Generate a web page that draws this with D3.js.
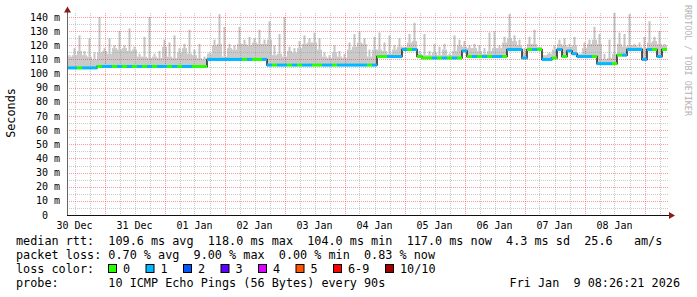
<!DOCTYPE html>
<html>
<head>
<meta charset="utf-8">
<script src="https://cdn.jsdelivr.net/npm/d3@7"></script>
<style>
html, body { margin: 0; padding: 0; background: #fff; }
svg { display: block; }
text { font-family: "DejaVu Sans Mono", monospace; fill: #000; white-space: pre; }
</style>
</head>
<body>
<svg id="chart" width="697" height="297"></svg>
<script>
// smokeping style latency graph, 10 days, one sample every 2 hours
const startTime = new Date(2025, 11, 30, 9, 0);
const endTime = new Date(2026, 0, 9, 9, 0);
const stepHours = 2;

// median rtt (ms) per sample
const median = [
  104, 104, 104, 104, 104, 104,
  105, 105, 105, 105, 105, 105, 105, 105, 105, 105, 105,
  105, 105, 105, 105, 105, 105, 105, 105, 105, 105, 105,
  110, 110, 110, 110, 110, 110, 110, 110, 110, 110, 110, 110,
  106, 106, 106, 106, 106, 106, 106, 106, 106, 106, 106,
  106, 106, 106, 106, 106, 106, 106, 106, 106, 106, 106,
  112, 112, 112, 112, 112,
  117, 117, 117,
  112,
  111, 111, 111, 111, 111, 111, 111, 111,
  116,
  112, 112, 112, 112, 112, 112, 112, 112,
  117, 117, 117, 111, 117, 117, 117,
  110, 110, 111,
  117, 112, 116, 114,
  112, 112, 112, 112,
  107, 107, 107, 107,
  113, 113,
  117, 117, 117,
  110,
  117, 117,
  112,
  117
];

// lost pings (of 10) per sample
const loss = [
  1, 1, 0, 1, 1, 1,
  0, 1, 1, 0, 1, 0, 1, 0, 1, 0, 1, 0, 1, 1, 0, 1, 0, 1, 1, 0, 0, 0,
  1, 1, 1, 1, 1, 1, 1, 0, 1, 0, 0, 1,
  1, 0, 1, 1, 0, 1, 0, 1, 1, 0, 0, 1, 1, 0, 1, 1, 1, 1, 1, 1, 0, 1,
  0, 0, 1, 1, 1,
  1, 0, 1,
  0,
  0, 0, 1, 0, 1, 0, 1, 0,
  1,
  0, 1, 0, 1, 0, 1, 1, 0,
  1, 1, 1, 1, 0, 1, 0,
  1, 1, 0,
  1, 0, 1, 1,
  1, 1, 1, 0,
  1, 1, 1, 0,
  0, 1,
  1, 1, 1,
  1,
  1, 0,
  1,
  0
];

// smoke: broad upper level and highest ping (ms) per sample
const smokeBody = [
  112, 113, 116, 113, 112, 110, 115, 116, 114, 118,
  117, 118, 116, 117, 112, 112, 111, 112, 111, 119,
  112, 111, 115, 118, 114, 113, 111, 110, 114, 120,
  121, 112, 118, 117, 121, 121, 120, 122, 121, 121,
  124, 113, 114, 112, 116, 115, 118, 121, 122, 122,
  117, 112, 111, 115, 112, 111, 117, 119, 122, 121,
  112, 117, 117, 116, 114, 117, 119, 119, 122, 123,
  114, 113, 113, 115, 113, 117, 113, 116, 120, 119,
  118, 118, 116, 114, 116, 118, 118, 122, 125, 123,
  120, 115, 121, 121, 119, 113, 114, 117, 121, 120,
  119, 120, 114, 118, 121, 124, 121, 110, 111, 114,
  121, 119, 120, 120, 119, 118, 122, 123, 121, 120
];
const smokeMax = [
  113, 118, 127, 116, 125, 115, 140, 118, 125, 120,
  130, 120, 132, 119, 114, 126, 140, 114, 116, 124,
  122, 127, 118, 121, 131, 117, 121, 112, 115, 124,
  142, 133, 121, 120, 133, 124, 126, 125, 131, 124,
  137, 120, 128, 140, 119, 118, 123, 127, 125, 129,
  125, 115, 113, 120, 116, 114, 122, 128, 130, 125,
  117, 126, 129, 122, 127, 120, 125, 118, 128, 136,
  116, 128, 116, 121, 119, 121, 114, 127, 124, 123,
  120, 121, 120, 118, 129, 130, 120, 126, 142, 127,
  124, 118, 126, 131, 119, 113, 115, 120, 124, 125,
  121, 126, 114, 122, 124, 133, 128, 114, 124, 143,
  129, 128, 142, 121, 122, 126, 137, 126, 130, 121
];

const lossColors = ['#26ff00', '#00b8ff', '#0059ff', '#5e00ff', '#dd00ff', '#ff5500', '#ff0000', '#a10000'];
const lossLabels = ['0', '1', '2', '3', '4', '5', '6-9', '10/10'];
const lossBoxX = [108, 145.5, 183, 220.5, 258, 295.5, 333, 385];

const rttStats = ['109.6 ms avg', '118.0 ms max', '104.0 ms min', '117.0 ms now', '4.3 ms sd', '25.6   am/s'];
const lossStats = ['0.70 % avg', '9.00 % max', '0.00 % min', '0.83 % now'];
const probeText = '10 ICMP Echo Pings (56 Bytes) every 90s';
const stampText = 'Fri Jan  9 08:26:21 2026';

const svg = d3.select('#chart');

const x = d3.scaleTime().domain([startTime, endTime]).range([67, 667]);
const y = d3.scaleLinear().domain([0, 140]).range([215, 17]);

const slots = median.map((m, i) => ({
  t0: d3.timeHour.offset(startTime, i * stepHours),
  t1: d3.timeHour.offset(startTime, (i + 1) * stepHours),
  med: m,
  loss: loss[i],
  body: smokeBody[i],
  max: smokeMax[i]
}));

// smoke
const smoke = svg.append('g');
smoke.selectAll('rect.body')
  .data(slots)
  .enter().append('rect')
  .attr('x', d => x(d.t0))
  .attr('width', d => x(d.t1) - x(d.t0))
  .attr('y', d => y(d.body))
  .attr('height', d => y(d.med) - y(d.body))
  .attr('fill', '#cacaca');
smoke.selectAll('rect.spike')
  .data(slots.filter(d => d.max > d.body))
  .enter().append('rect')
  .attr('x', d => (x(d.t0) + x(d.t1)) / 2 - 1)
  .attr('width', 2)
  .attr('y', d => y(d.max))
  .attr('height', d => y(d.body) - y(d.max))
  .attr('fill', '#c4c4c4');

// grid
const grid = svg.append('g').attr('shape-rendering', 'crispEdges');
const minorY = d3.range(5, 141, 10);
const majorY = y.ticks(14);
grid.selectAll('line.hmin')
  .data(minorY)
  .enter().append('line')
  .attr('x1', 67).attr('x2', 668)
  .attr('y1', d => Math.round(y(d)) + 0.5).attr('y2', d => Math.round(y(d)) + 0.5)
  .attr('stroke', 'rgba(140,140,140,0.45)')
  .attr('stroke-dasharray', '1,1');
grid.selectAll('line.hmaj')
  .data(majorY.filter(d => d > 0))
  .enter().append('line')
  .attr('x1', 67).attr('x2', 668)
  .attr('y1', d => Math.round(y(d)) + 0.5).attr('y2', d => Math.round(y(d)) + 0.5)
  .attr('stroke', 'rgba(255,0,0,0.4)')
  .attr('stroke-dasharray', '1,1');

const sixHours = d3.timeHour.every(6).range(startTime, endTime).filter(d => d.getHours() !== 0);
const midnights = d3.timeDay.range(startTime, endTime);
grid.selectAll('line.vmin')
  .data(sixHours)
  .enter().append('line')
  .attr('x1', d => Math.round(x(d)) + 0.5).attr('x2', d => Math.round(x(d)) + 0.5)
  .attr('y1', 13).attr('y2', 215)
  .attr('stroke', 'rgba(140,140,140,0.45)')
  .attr('stroke-dasharray', '1,1');
grid.selectAll('line.vmaj')
  .data(midnights)
  .enter().append('line')
  .attr('x1', d => Math.round(x(d)) + 0.5).attr('x2', d => Math.round(x(d)) + 0.5)
  .attr('y1', 13).attr('y2', 215)
  .attr('stroke', 'rgba(255,0,0,0.4)')
  .attr('stroke-dasharray', '1,1');

// median: dark step line, then loss-coloured segments on top
const stepPts = slots.map(d => [d.t0, d.med]).concat([[endTime, median[median.length - 1]]]);
svg.append('path')
  .datum(stepPts)
  .attr('d', d3.line().x(d => x(d[0])).y(d => y(d[1])).curve(d3.curveStepAfter))
  .attr('fill', 'none')
  .attr('stroke', '#222')
  .attr('stroke-width', 1.5);
svg.append('g').selectAll('line')
  .data(slots)
  .enter().append('line')
  .attr('x1', d => x(d.t0)).attr('x2', d => x(d.t1))
  .attr('y1', d => y(d.med)).attr('y2', d => y(d.med))
  .attr('stroke', d => lossColors[d.loss])
  .attr('stroke-width', 3);

// axes
const axis = svg.append('g').attr('shape-rendering', 'crispEdges');
axis.append('line').attr('x1', 67.5).attr('x2', 67.5).attr('y1', 11).attr('y2', 215.5).attr('stroke', '#666');
axis.append('line').attr('x1', 67).attr('x2', 670).attr('y1', 215.5).attr('y2', 215.5).attr('stroke', '#111');
svg.append('path').attr('d', 'M64,12.5 L67.5,6.5 L71,12.5 Z').attr('fill', '#8b1a1a');
svg.append('path').attr('d', 'M669,212 L675,215.5 L669,219 Z').attr('fill', '#8b1a1a');

// y labels
const yl = svg.append('g').attr('font-size', 10);
yl.selectAll('text.num')
  .data(majorY)
  .enter().append('text')
  .attr('x', 48).attr('y', d => y(d)).attr('dy', '0.35em')
  .attr('text-anchor', 'end')
  .text(d => d);
yl.selectAll('text.unit')
  .data(majorY.filter(d => d > 0))
  .enter().append('text')
  .attr('x', 54).attr('y', d => y(d)).attr('dy', '0.35em')
  .text('m');

// x labels at noon of each day
const noons = midnights.map(d => d3.timeHour.offset(d, -12)).filter(d => x(d) > 60);
svg.append('g').attr('font-size', 10)
  .selectAll('text')
  .data(noons)
  .enter().append('text')
  .attr('x', d => x(d)).attr('y', 228.5)
  .attr('text-anchor', 'middle')
  .text(d3.timeFormat('%d %b'));

svg.append('text')
  .attr('transform', 'translate(15,113) rotate(-90)')
  .attr('text-anchor', 'middle')
  .attr('font-size', 11.8)
  .text('Seconds');

svg.append('text')
  .attr('transform', 'translate(685,5) rotate(90)')
  .attr('font-size', 8.4)
  .style('fill', '#b4b4b4')
  .text('RRDTOOL / TOBI OETIKER');

// legend
const leg = svg.append('g').attr('font-size', 11.8);
leg.append('text').attr('x', 16).attr('y', 245).text('median rtt:  ' + rttStats.join('  '));
leg.append('text').attr('x', 16).attr('y', 259).text('packet loss: ' + lossStats.join('  '));
leg.append('text').attr('x', 16).attr('y', 273).text('loss color:');
leg.selectAll('rect')
  .data(lossColors)
  .enter().append('rect')
  .attr('x', (d, i) => lossBoxX[i] + 0.5).attr('y', 264.5)
  .attr('width', 8).attr('height', 8)
  .attr('fill', d => d)
  .attr('stroke', '#000')
  .attr('stroke-width', 1);
leg.selectAll('text.ll')
  .data(lossLabels)
  .enter().append('text')
  .attr('x', (d, i) => lossBoxX[i] + 15).attr('y', 273)
  .text(d => d);
leg.append('text').attr('x', 16).attr('y', 287).text('probe:       ' + probeText);
leg.append('text').attr('x', 680).attr('y', 287).attr('text-anchor', 'end').text(stampText);
</script>
</body>
</html>
